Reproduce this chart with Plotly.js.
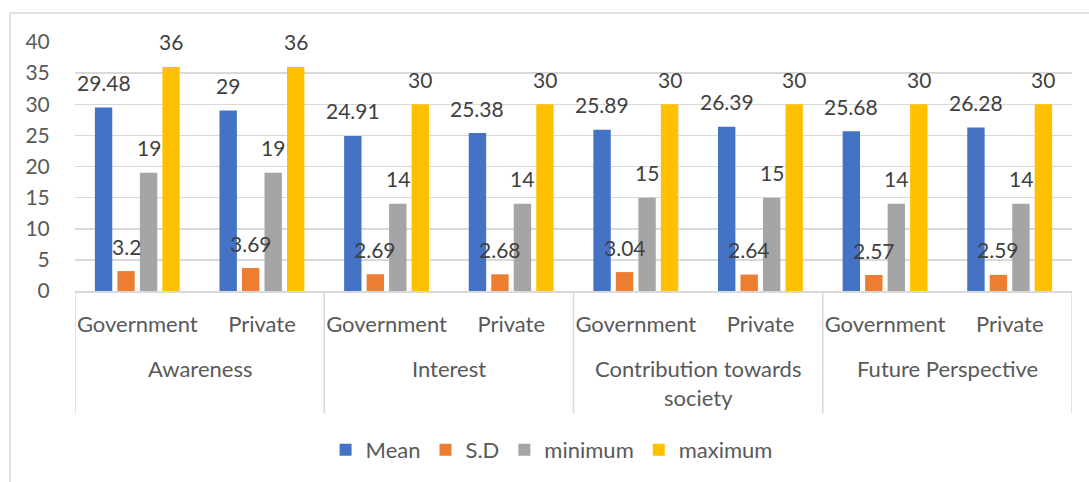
<!DOCTYPE html>
<html>
<head>
<meta charset="utf-8">
<script src="https://cdn.plot.ly/plotly-3.0.1.min.js"></script>
<style>html,body{margin:0;padding:0;background:#fff;}#chart{width:1089px;height:482px;}</style>
</head>
<body>
<div id="chart"></div>
<script>
const groups = ['Awareness', 'Interest', 'Contribution towards<br>society', 'Future Perspective'];
const sectors = ['Government', 'Private', 'Government', 'Private', 'Government', 'Private', 'Government', 'Private'];
const seriesNames = ['Mean', 'S.D', 'minimum', 'maximum'];
const mean = [29.48, 29, 24.91, 25.38, 25.89, 26.39, 25.68, 26.28];
const sd = [3.2, 3.69, 2.69, 2.68, 3.04, 2.64, 2.57, 2.59];
const minimum = [19, 19, 14, 14, 15, 15, 14, 14];
const maximum = [36, 36, 30, 30, 30, 30, 30, 30];
const yTicks = [0, 5, 10, 15, 20, 25, 30, 35, 40];

const colors = ['#4472C4', '#ED7D31', '#A5A5A5', '#FFC000'];
const FONT = 'Lato, "Open Sans", sans-serif';
const BARGAP = 0.278, BARGROUPGAP = 0.227;
const series = [mean, sd, minimum, maximum];
const xIdx = sectors.map((_, i) => i);

const traces = series.map((vals, k) => ({
  type: 'bar', name: seriesNames[k], x: xIdx, y: vals,
  marker: {color: colors[k]}, hoverinfo: 'y'
}));

const nS = series.length;
const slot = (1 - BARGAP) / nS;
const annotations = [];
series.forEach((vals, k) => {
  vals.forEach((v, i) => {
    annotations.push({
      x: i - (1 - BARGAP) / 2 + slot * (k + 0.5), y: v, xref: 'x', yref: 'y',
      text: String(v), showarrow: false, yanchor: 'middle', yshift: 25,
      font: {family: FONT, size: 21, color: '#404040'}
    });
  });
});
groups.forEach((g, j) => {
  annotations.push({
    x: 2 * j + 0.5, y: -0.308, xref: 'x', yref: 'paper', text: g, showarrow: false,
    yanchor: 'top', yshift: 15, font: {family: FONT, size: 22, color: '#595959'}
  });
});

const shapes = [];
for (let j = 0; j <= groups.length; j++) {
  shapes.push({type: 'line', xref: 'x', yref: 'paper', x0: 2 * j - 0.5, x1: 2 * j - 0.5,
    y0: 0, y1: -0.492, line: {color: '#d9d9d9', width: 1.5}});
}
shapes.push({type: 'rect', xref: 'paper', yref: 'paper', x0: -0.0652, x1: 1.03, y0: -0.85, y1: 1.116,
  line: {color: '#d9d9d9', width: 1.5}, layer: 'below'});

const layout = {
  width: 1089, height: 482,
  margin: {l: 75, r: 17, t: 42, b: 190},
  paper_bgcolor: '#fff', plot_bgcolor: '#fff',
  barmode: 'group', bargap: BARGAP, bargroupgap: BARGROUPGAP,
  font: {family: FONT, size: 21, color: '#595959'},
  xaxis: {
    tickmode: 'array', tickvals: xIdx, ticktext: sectors, range: [-0.5, sectors.length - 0.5],
    showgrid: false, zeroline: false, showline: true, linecolor: '#d9d9d9', linewidth: 1.5,
    ticks: 'outside', ticklen: 13, tickcolor: 'rgba(0,0,0,0)', fixedrange: true,
    tickfont: {family: FONT, size: 22, color: '#595959'}
  },
  yaxis: {
    range: [0, 40], tickmode: 'array', tickvals: yTicks, ticktext: yTicks.map(String),
    showgrid: true, gridcolor: '#d9d9d9', gridwidth: 1.5, zeroline: false, showline: false,
    ticks: 'outside', ticklen: 20, tickcolor: 'rgba(0,0,0,0)', fixedrange: true,
    tickfont: {family: FONT, size: 21, color: '#595959'}
  },
  showlegend: true,
  legend: {orientation: 'h', x: 0.478, xanchor: 'center', y: -0.632, yanchor: 'middle',
    font: {family: FONT, size: 22, color: '#595959'}, itemwidth: 30, traceorder: 'normal'},
  annotations: annotations, shapes: shapes
};

Plotly.newPlot('chart', traces, layout, {displayModeBar: false, staticPlot: true});
</script>
</body>
</html>
